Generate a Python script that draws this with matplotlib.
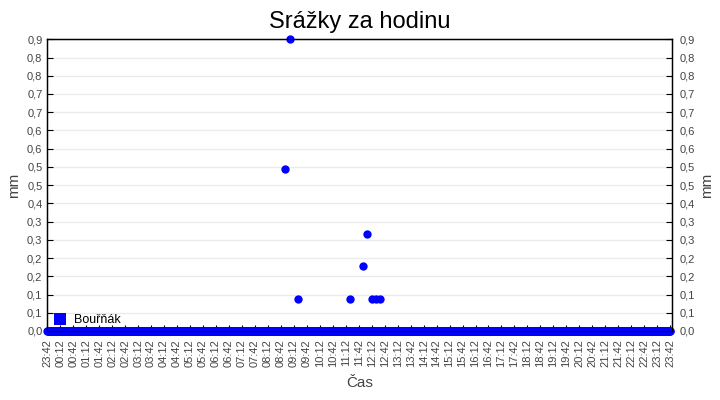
#!/usr/bin/env python3
"""Hourly rainfall chart (Srážky za hodinu) for one station."""

import matplotlib
matplotlib.use("Agg")
import matplotlib.pyplot as plt
from matplotlib.lines import Line2D
import numpy as np
import pandas as pd

START = "2024-06-01 23:42"
STATION = "Bouřňák"

# readings every minute, 23:42 .. 23:42 next day; all zero except these
times = pd.date_range(START, periods=1441, freq="1min")
wet_times = ["2024-06-02 08:52", "2024-06-02 09:02", "2024-06-02 09:22",
             "2024-06-02 11:22", "2024-06-02 11:52", "2024-06-02 12:02",
             "2024-06-02 12:12", "2024-06-02 12:22", "2024-06-02 12:32"]
wet_mm = [0.5, 0.9, 0.1, 0.1, 0.2, 0.3, 0.1, 0.1, 0.1]

rain = pd.Series(0.0, index=times)
rain[pd.to_datetime(wet_times)] = wet_mm

tick_times = pd.date_range(START, periods=49, freq="30min")
tick_labels = [t.strftime("%H:%M") for t in tick_times]

y_max = 0.9
y_ticks = np.linspace(0, y_max, 17)
y_tick_labels = ["0,0", "0,1", "0,1", "0,2", "0,2", "0,3", "0,3", "0,4", "0,5",
                 "0,5", "0,6", "0,6", "0,7", "0,7", "0,8", "0,8", "0,9"]

BLUE = "#0000ff"
GREY = "#444444"

plt.rcParams["font.family"] = ["Liberation Sans", "DejaVu Sans"]

fig = plt.figure(figsize=(7.2, 4.0), dpi=100)
ax = fig.add_axes([47.3 / 720, 1 - 331 / 400, 625 / 720, 291.7 / 400])

ax.plot(rain.index.to_pydatetime(), rain.values, linestyle="none", marker="o",
        markersize=6, markeredgewidth=0, color=BLUE, clip_on=False, zorder=3)

ax.set_xlim(times[0], times[-1] + pd.Timedelta(minutes=5))
ax.set_ylim(0, y_max)

ax.set_xticks(tick_times.to_pydatetime())
ax.set_xticklabels(tick_labels, rotation=90, fontsize=8, color=GREY)
ax.set_yticks(y_ticks)
ax.set_yticklabels(y_tick_labels, fontsize=8, color=GREY)
ax.tick_params(axis="x", direction="in", length=4, pad=6)
ax.tick_params(axis="y", direction="in", length=4, pad=3.5)
ax.grid(True, axis="y", color="#ebebeb", linewidth=1)
ax.set_axisbelow(True)
for spine in ax.spines.values():
    spine.set_color("black")
    spine.set_linewidth(1)

ax2 = ax.twinx()
ax2.set_ylim(0, y_max)
ax2.set_yticks(y_ticks)
ax2.set_yticklabels(y_tick_labels, fontsize=8, color=GREY)
ax2.tick_params(axis="y", direction="in", length=4, pad=5)
ax2.set_ylabel("mm", fontsize=11, color=GREY, labelpad=4)

ax.set_ylabel("mm", fontsize=11, color=GREY, labelpad=4)
ax.set_xlabel("Čas", fontsize=11, color=GREY, labelpad=6)

fig.text(0.5, 1 - 22 / 400, "Srážky za hodinu", fontsize=17, ha="center", va="center")

handle = Line2D([], [], linestyle="none", marker="s", markersize=8,
                markeredgewidth=0, color=BLUE)
leg = ax.legend([handle], [STATION], loc="lower left", bbox_to_anchor=(-0.002, -0.01),
                frameon=False, fontsize=9, handlelength=1.0, handletextpad=0.6,
                borderpad=0.3, borderaxespad=0.3)
leg.set_zorder(5)

fig.savefig("out.png", dpi=100)
